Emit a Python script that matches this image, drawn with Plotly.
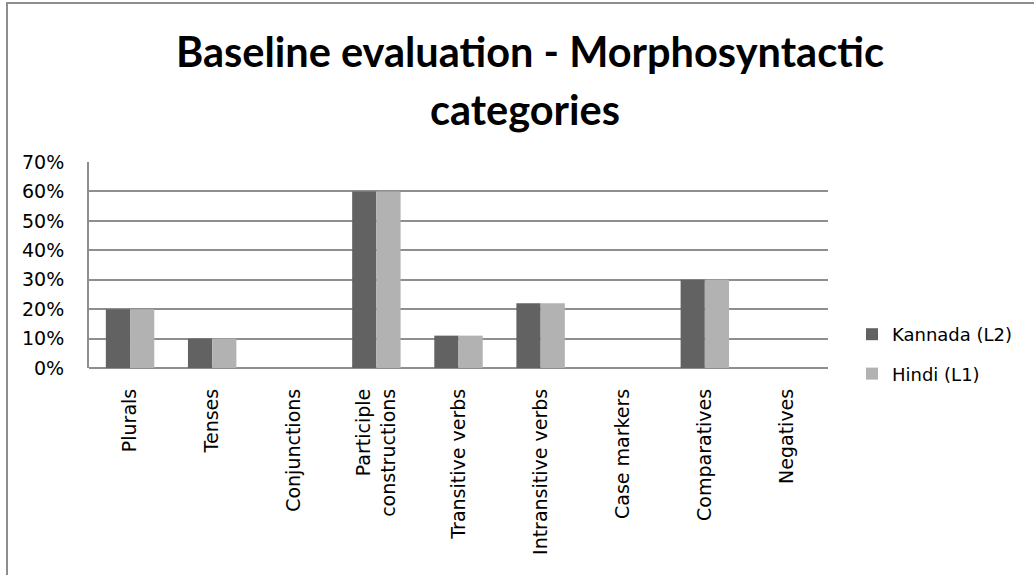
import plotly.graph_objects as go

categories = ["Plurals", "Tenses", "Conjunctions", "Participle<br>constructions",
              "Transitive verbs", "Intransitive verbs", "Case markers",
              "Comparatives", "Negatives"]
kannada = [0.20, 0.10, 0.0, 0.60, 0.11, 0.22, 0.0, 0.30, 0.0]
hindi = [0.20, 0.10, 0.0, 0.60, 0.11, 0.22, 0.0, 0.30, 0.0]
y_ticks = [0, 0.1, 0.2, 0.3, 0.4, 0.5, 0.6, 0.7]
y_labels = ["0%", "10%", "20%", "30%", "40%", "50%", "60%", "70%"]
title_lines = ["Baseline evaluation - Morphosyntactic", "categories"]

FONT = "DejaVu Sans"
TFONT = "Lato"
W, H = 1034, 575
L, R, T, B = 89, 828, 162, 368

fig = go.Figure()
fig.add_trace(go.Bar(x=categories, y=kannada, name="Kannada (L2)", legendgroup="k",
                     marker=dict(color="#626262", line=dict(width=0))))
fig.add_trace(go.Bar(x=categories, y=hindi, name="Hindi (L1)", legendgroup="h",
                     marker=dict(color="#b2b2b2", line=dict(width=0))))

def px_x(p):
    return (p - L) / (R - L)

def px_y(p):
    return (B - p) / (B - T)

annotations = [
    dict(text="<b>%s</b>" % title_lines[0], xref="paper", yref="paper",
         x=px_x(530), y=px_y(51), xanchor="center", yanchor="middle",
         showarrow=False, font=dict(family=TFONT, size=41.5, color="black")),
    dict(text="<b>%s</b>" % title_lines[1], xref="paper", yref="paper",
         x=px_x(525), y=px_y(109), xanchor="center", yanchor="middle",
         showarrow=False, font=dict(family=TFONT, size=41.5, color="black")),
]

fig.update_layout(
    width=W, height=H,
    margin=dict(l=L, r=W - R, t=T, b=H - B),
    paper_bgcolor="white", plot_bgcolor="white",
    barmode="group", bargap=0.41, bargroupgap=0,
    font=dict(family=FONT, size=19, color="black"),
    annotations=annotations,
    legend=dict(x=px_x(852), xanchor="left", y=px_y(354), yanchor="middle",
                font=dict(family=FONT, size=18, color="black"), bgcolor="rgba(0,0,0,0)",
                tracegroupgap=13),
    showlegend=True,
    xaxis=dict(tickangle=-90, showgrid=False, showline=False, ticks="",
               ticklabelstandoff=16, tickfont=dict(family=FONT, size=19)),
    yaxis=dict(range=[0, 0.7], tickvals=y_ticks, ticktext=y_labels,
               showgrid=True, gridcolor="#8e8e8e", gridwidth=2,
               zeroline=True, zerolinecolor="#8e8e8e", zerolinewidth=2,
               showline=True, linecolor="#8e8e8e", linewidth=2,
               ticks="", ticklabelstandoff=19, tickfont=dict(family=FONT, size=19)),
    shapes=[dict(type="rect", xref="paper", yref="paper",
                 x0=px_x(7), x1=px_x(1100), y0=px_y(640), y1=px_y(3),
                 line=dict(color="#8e8e8e", width=2), layer="below")],
)
fig.write_html("out.html", config={"displayModeBar": False},
               post_script="document.body.style.margin='0px';")
